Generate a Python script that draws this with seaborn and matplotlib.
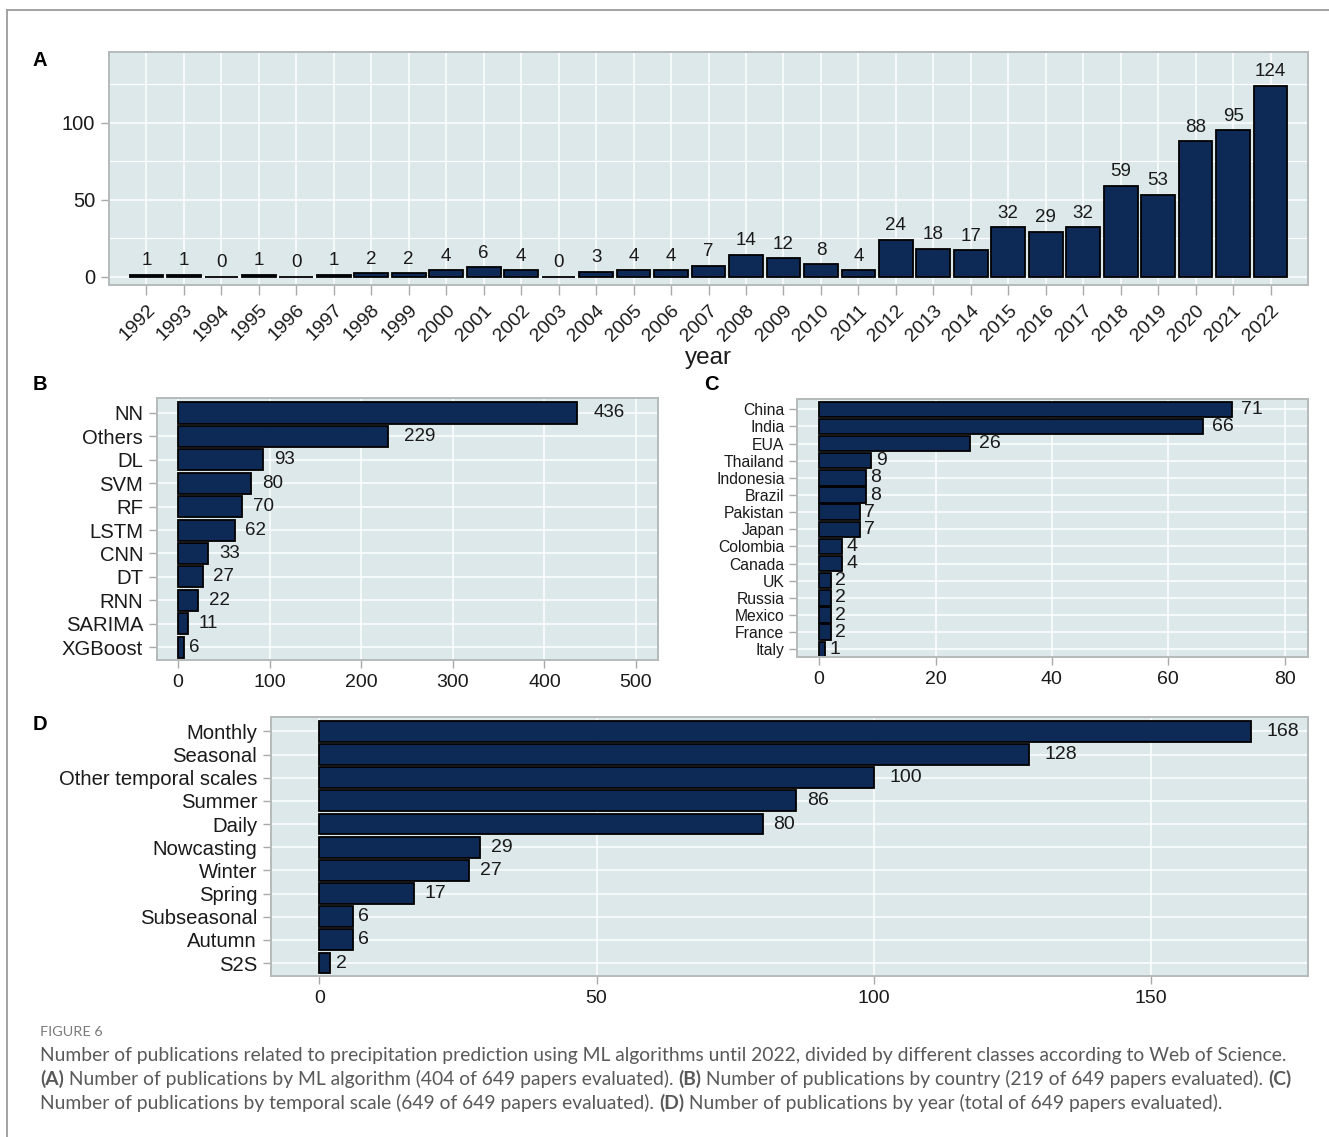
import matplotlib
matplotlib.use("Agg")
import matplotlib.pyplot as plt
import seaborn as sns
from matplotlib.ticker import MultipleLocator
from matplotlib.lines import Line2D
from matplotlib import font_manager

# ---------------- data ----------------
years = [str(y) for y in range(1992, 2023)]
year_counts = [1, 1, 0, 1, 0, 1, 2, 2, 4, 6, 4, 0, 3, 4, 4, 7, 14, 12, 8, 4,
               24, 18, 17, 32, 29, 32, 59, 53, 88, 95, 124]

algorithms = ["NN", "Others", "DL", "SVM", "RF", "LSTM", "CNN", "DT", "RNN",
              "SARIMA", "XGBoost"]
alg_counts = [436, 229, 93, 80, 70, 62, 33, 27, 22, 11, 6]

countries = ["China", "India", "EUA", "Thailand", "Indonesia", "Brazil",
             "Pakistan", "Japan", "Colombia", "Canada", "UK", "Russia",
             "Mexico", "France", "Italy"]
country_counts = [71, 66, 26, 9, 8, 8, 7, 7, 4, 4, 2, 2, 2, 2, 1]

scales = ["Monthly", "Seasonal", "Other temporal scales", "Summer", "Daily",
          "Nowcasting", "Winter", "Spring", "Subseasonal", "Autumn", "S2S"]
scale_counts = [168, 128, 100, 86, 80, 29, 27, 17, 6, 6, 2]

b_ticks = [0, 100, 200, 300, 400, 500]
c_ticks = [0, 20, 40, 60, 80]
d_ticks = [0, 50, 100, 150]
a_ticks = [0, 50, 100]

caption_title = "FIGURE 6"
caption_runs = [
    [("Number of publications related to precipitation prediction using ML algorithms until 2022, divided by different classes according to Web of Science.", "normal")],
    [("(A)", "bold"), (" Number of publications by ML algorithm (404 of 649 papers evaluated). ", "normal"),
     ("(B)", "bold"), (" Number of publications by country (219 of 649 papers evaluated). ", "normal"),
     ("(C)", "bold")],
    [("Number of publications by temporal scale (649 of 649 papers evaluated). ", "normal"),
     ("(D)", "bold"), (" Number of publications by year (total of 649 papers evaluated).", "normal")],
]

# ---------------- style ----------------
NAVY = "#0d2955"
BG = "#dce8ea"
SPINE = "#b5babb"
TICKC = "#a9a9a9"
TXT = "#1a1a1a"

plt.rcParams["font.family"] = ["Liberation Sans", "DejaVu Sans"]

installed = {f.name for f in font_manager.fontManager.ttflist}
CAP_FONT = ["Liberation Sans Narrow", "Lato"] if "Liberation Sans Narrow" in installed else ["Lato", "DejaVu Sans"]

W, H = 1329, 1137
fig = plt.figure(figsize=(W / 100, H / 100), dpi=100)
fig.patch.set_facecolor("white")


def add_ax(l, t, r, b):
    return fig.add_axes([l / W, 1 - b / H, (r - l) / W, (b - t) / H])


def style(ax, xfs, yfs):
    ax.set_facecolor(BG)
    for s in ax.spines.values():
        s.set_color(SPINE)
        s.set_linewidth(1.4)
    ax.tick_params(axis="both", color=TICKC, length=6, width=1.0,
                   labelcolor=TXT, pad=4)
    ax.tick_params(axis="x", labelsize=xfs)
    ax.tick_params(axis="y", labelsize=yfs)
    ax.grid(True, which="major", color="white", linewidth=1.1)
    ax.set_axisbelow(True)
    ax.set_xlabel("")
    ax.set_ylabel("")


def hlabels(ax, values, fs, per_digit):
    cont = ax.containers[0]
    for p, v in zip(cont.patches, values):
        s = f"{v}"
        ax.annotate(s, xy=(p.get_x() + p.get_width(), p.get_y() + p.get_height() / 2),
                    xytext=(per_digit * len(s), 0), textcoords="offset points",
                    ha="left", va="center", fontsize=fs, color=TXT)


bar_kw = dict(color=NAVY, edgecolor="black", linewidth=1.3, saturation=1, width=0.9)

# ---------------- A ----------------
axA = add_ax(109, 52, 1308, 285)
sns.barplot(x=years, y=year_counts, ax=axA, **bar_kw)
style(axA, 14, 14.5)
axA.set_xlim(-1.0, 31.0)
axA.set_ylim(-5.5, 146)
axA.set_yticks(a_ticks)
axA.yaxis.set_minor_locator(MultipleLocator(25))
axA.tick_params(axis="y", which="minor", length=0)
axA.tick_params(axis="x", length=7, pad=5)
axA.grid(True, which="minor", axis="y", color="white", linewidth=0.9)
axA.bar_label(axA.containers[0], padding=4, fontsize=13.5, color=TXT)
plt.setp(axA.get_xticklabels(), rotation=45, ha="right", va="top",
         rotation_mode="anchor")
axA.set_xlabel("year", fontsize=17.5, color=TXT, labelpad=2)

# ---------------- B ----------------
axB = add_ax(157, 398, 658, 660)
sns.barplot(x=alg_counts, y=algorithms, orient="h", ax=axB, **bar_kw)
style(axB, 14, 14.6)
axB.set_xticks(b_ticks)
axB.set_xlim(-23, 524)
axB.set_ylim(len(algorithms) - 1 + 0.55, -0.64)
hlabels(axB, alg_counts, 13.5, 3.8)

# ---------------- C ----------------
axC = add_ax(797, 399, 1308, 657)
sns.barplot(x=country_counts, y=countries, orient="h", ax=axC, **bar_kw)
style(axC, 14, 11.3)
axC.set_xticks(c_ticks)
axC.set_xlim(-3.8, 84.0)
axC.set_ylim(len(countries) - 1 + 0.45, -0.6)
axC.tick_params(axis="y", pad=3)
hlabels(axC, country_counts, 14, 3.0)

# ---------------- D ----------------
axD = add_ax(271, 717, 1308, 976)
sns.barplot(x=scale_counts, y=scales, orient="h", ax=axD, **bar_kw)
style(axD, 14, 14.6)
axD.set_xticks(d_ticks)
axD.set_xlim(-8.7, 178.3)
axD.set_ylim(len(scales) - 1 + 0.56, -0.62)
hlabels(axD, scale_counts, 14, 3.8)

# ---------------- panel letters ----------------
for letter, (px, py) in {"A": (40, 60), "B": (40, 385), "C": (711, 385), "D": (40, 725)}.items():
    fig.text(px / W, 1 - py / H, letter, fontsize=14.5, fontweight="bold",
             ha="center", va="center", color="black")

# ---------------- frame ----------------
fig.add_artist(Line2D([7 / W, 1], [1 - 10 / H, 1 - 10 / H], color="#9c9c9c", lw=1.3))
fig.add_artist(Line2D([7 / W, 7 / W], [0, 1 - 10 / H], color="#9c9c9c", lw=1.3))

# ---------------- caption ----------------
CAP_COL = "#595959"
renderer = fig.canvas.get_renderer()

probe = fig.text(0, 0, caption_title, fontsize=10, family=CAP_FONT)
tw = probe.get_window_extent(renderer).width
probe.remove()
fig.text(40 / W, 1 - 1032 / H, caption_title, fontsize=10 * 62 / tw, color="#7a7a7a",
         family=CAP_FONT, ha="left", va="center")

# fit first line width to ~1243 px
probe = fig.text(0, 0, caption_runs[0][0][0], fontsize=12, family=CAP_FONT)
wpx = probe.get_window_extent(renderer).width
probe.remove()
cap_fs = 12 * 1243 / wpx

for i, runs in enumerate(caption_runs):
    x = 40.0
    y = 1055 + 24 * i
    for txt, wt in runs:
        t = fig.text(x / W, 1 - y / H, txt, fontsize=cap_fs, fontweight=wt,
                     color=CAP_COL, family=CAP_FONT, ha="left", va="center")
        x += t.get_window_extent(renderer).width

fig.savefig("out.png", dpi=100)
